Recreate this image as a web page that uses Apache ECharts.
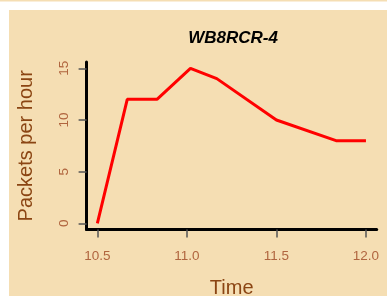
<!DOCTYPE html>
<html>
<head>
<meta charset="utf-8">
<script src="https://cdn.jsdelivr.net/npm/echarts@6/dist/echarts.min.js"></script>
<style>
html,body{margin:0;padding:0;background:#fff;}
#c{width:387px;height:296px;}
</style>
</head>
<body>
<div id="c"></div>
<script>
var times = [10.5, 10.667, 10.833, 11.02, 11.167, 11.5, 11.833, 12.0];
var packets = [0, 12, 12, 15, 14, 10, 8, 8];
var xTicks = [10.5, 11.0, 11.5, 12.0];
var yTicks = [0, 5, 10, 15];
var titleText = 'WB8RCR-4';
var xName = 'Time';
var yName = 'Packets per hour';

var font = "'Liberation Sans', Arial, Helvetica, sans-serif";
var chart = echarts.init(document.getElementById('c'), null, {renderer: 'canvas'});
chart.setOption({
  backgroundColor: '#ffffff',
  animation: false,
  graphic: {
    elements: [
      {type: 'rect', z: -10, shape: {x: 9, y: 10, width: 378, height: 286}, style: {fill: '#f5deb3'}},
      {type: 'rect', z: -10, shape: {x: 0, y: 0, width: 387, height: 1.5}, style: {fill: '#f5deb3'}}
    ]
  },
  title: {
    text: titleText,
    left: 228,
    top: 25,
    textAlign: 'center',
    textStyle: {fontFamily: font, fontSize: 17, fontWeight: 'bold', fontStyle: 'italic', color: '#000'}
  },
  grid: {left: 86.6, right: 10.3, top: 62.1, bottom: 66.5, containLabel: false, outerBoundsMode: 'none'},
  xAxis: {
    type: 'value',
    min: 10.44, max: 12.06,
    name: xName,
    nameLocation: 'middle',
    nameGap: 49,
    nameTextStyle: {fontFamily: font, fontSize: 20, color: '#8b4513'},
    axisLine: {show: true, onZero: false, lineStyle: {color: '#000', width: 3}},
    axisTick: {show: true, customValues: xTicks, length: 8, lineStyle: {color: '#555', width: 1.5}},
    axisLabel: {customValues: xTicks, margin: 20, fontFamily: font, fontSize: 13.5, color: '#b0653f',
      formatter: function (v) { return v.toFixed(1); }},
    splitLine: {show: false}
  },
  yAxis: {
    type: 'value',
    min: -0.6, max: 15.6,
    name: yName,
    nameLocation: 'middle',
    nameGap: 50,
    nameTextStyle: {fontFamily: font, fontSize: 20, color: '#8b4513'},
    axisLine: {show: true, onZero: false, lineStyle: {color: '#000', width: 3}},
    axisTick: {show: true, customValues: yTicks, length: 8, lineStyle: {color: '#555', width: 1.5}},
    axisLabel: {customValues: yTicks, rotate: 90, margin: 15, fontFamily: font, fontSize: 13.5, color: '#b0653f'},
    splitLine: {show: false}
  },
  series: [{
    type: 'line',
    data: times.map(function (t, i) { return [t, packets[i]]; }),
    symbol: 'none',
    lineStyle: {color: '#ff0000', width: 3},
    z: 3
  }]
});
</script>
</body>
</html>
